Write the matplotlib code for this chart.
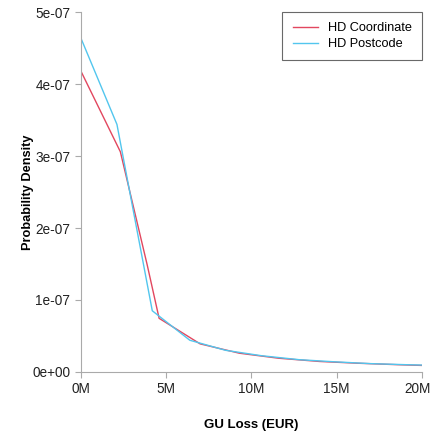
import matplotlib
matplotlib.use("Agg")
import matplotlib.pyplot as plt
import numpy as np
from matplotlib.ticker import FuncFormatter
import matplotlib.transforms as mtransforms

# loss in million EUR, density values in 1e-07
coord_x = [0, 2.33, 3.9, 4.6, 7.0, 9.3, 11.6, 14.0, 16.3, 18.6, 20.0]
coord_y = [4.19, 3.06, 1.49, 0.745, 0.39, 0.26, 0.19, 0.145, 0.12, 0.10, 0.09]
post_x = [0, 2.13, 4.2, 6.4, 8.5, 10.6, 12.8, 14.9, 17.0, 19.1, 20.0]
post_y = [4.65, 3.44, 0.85, 0.44, 0.30, 0.225, 0.17, 0.14, 0.115, 0.10, 0.095]
labels = ["HD Coordinate", "HD Postcode"]

plt.rcParams['font.family'] = ['Liberation Sans', 'DejaVu Sans']

fig = plt.figure(figsize=(4.31, 4.36), dpi=100)
ax = fig.add_axes([0.187, 0.147, 0.792, 0.825])

ax.plot(np.array(coord_x) * 1e6, np.array(coord_y) * 1e-7, color='#e2475f', lw=1, label=labels[0])
ax.plot(np.array(post_x) * 1e6, np.array(post_y) * 1e-7, color='#52c6ee', lw=1, label=labels[1])

ax.set_xlim(0, 20e6)
ax.set_ylim(0, 5e-7)
ax.set_xticks(np.arange(0, 20.1e6, 5e6))
ax.set_yticks(np.arange(0, 5.01e-7, 1e-7))
ax.xaxis.set_major_formatter(FuncFormatter(lambda v, p: f"{v/1e6:.0f}M"))
ax.yaxis.set_major_formatter(FuncFormatter(lambda v, p: f"{v:.0e}"))

for s in ['top', 'right']:
    ax.spines[s].set_visible(False)
for s in ['left', 'bottom']:
    ax.spines[s].set_color('#aaaaaa')
ax.tick_params(colors='#aaaaaa', labelcolor='#222222', labelsize=9.8, length=4)

# keep the last x tick label inside the figure
fig.canvas.draw()
last = ax.get_xticklabels()[-1]
last.set_transform(last.get_transform() + mtransforms.ScaledTranslation(-4 / 100, 0, fig.dpi_scale_trans))

ax.set_xlabel("GU Loss (EUR)", fontweight='bold', fontsize=9.5)
ax.set_ylabel("Probability Density", fontweight='bold', fontsize=9.2)
ax.xaxis.set_label_coords(0.5, -0.147)
ax.yaxis.set_label_coords(-0.154, 0.5)
ax.xaxis.label.set_va('center')
ax.yaxis.label.set_va('center')

leg = ax.legend(loc='upper right', fontsize=9.2, frameon=True, fancybox=False,
                handlelength=1.95, handletextpad=0.8, borderpad=0.8, labelspacing=0.3,
                borderaxespad=0.0, bbox_to_anchor=(1.0, 1.0))
leg.get_frame().set_edgecolor('#444444')
leg.get_frame().set_linewidth(0.8)

fig.savefig("out.png", dpi=100)
